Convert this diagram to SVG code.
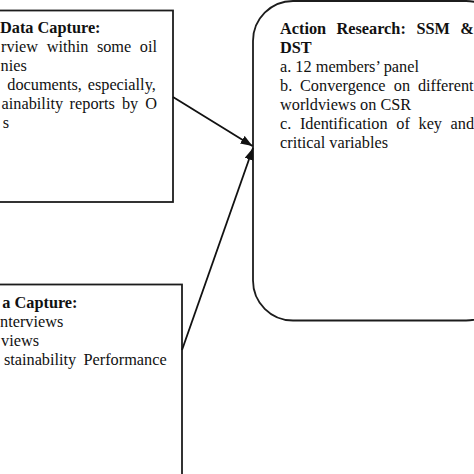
<svg xmlns="http://www.w3.org/2000/svg" width="474" height="474" viewBox="0 0 474 474">
<style>
.box{fill:#fff;stroke:#1c1c1c;stroke-width:1.8}
.t{font-family:"Liberation Serif","Times New Roman",serif;font-size:16.3px;fill:#111}
.b{font-weight:bold}
.con{stroke:#111;stroke-width:1.8;fill:none}
</style>
<defs>
<marker id="ah" viewBox="0 0 12 9" refX="12" refY="4.5" markerWidth="12" markerHeight="9" markerUnits="userSpaceOnUse" orient="auto">
<path d="M0,0 L12,4.5 L0,9 z" fill="#111"/>
</marker>
</defs>
<rect width="474" height="474" fill="#fff"/>
<g id="node-top-left">
<rect class="box" x="-10" y="10.5" width="183" height="191.5"/>
<text class="t b" x="0" y="33">Data Capture:</text>
<text class="t" y="52"><tspan x="1">rview</tspan><tspan x="46.7">within</tspan><tspan x="96.9">some</tspan><tspan x="139.8">oil</tspan></text>
<text class="t" x="0.5" y="71">nies</text>
<text class="t" y="90"><tspan x="7.3">documents,</tspan><tspan x="87.7">especially,</tspan></text>
<text class="t" y="109"><tspan x="1.6">ainability</tspan><tspan x="69.6">reports</tspan><tspan x="121.9">by</tspan><tspan x="145.2">O</tspan></text>
<text class="t" x="2.7" y="128">s</text>
</g>
<g id="node-bottom-left">
<rect class="box" x="-10" y="284.5" width="192" height="210"/>
<text class="t b" x="2.3" y="307.5">a Capture:</text>
<text class="t" x="0" y="326.5">nterviews</text>
<text class="t" x="1" y="345.5">views</text>
<text class="t" y="364.5"><tspan x="3.9">stainability</tspan><tspan x="83.5">Performance</tspan></text>
</g>
<g id="node-action-research">
<rect class="box" x="253" y="1" width="253" height="319.5" rx="40" ry="40"/>
<text class="t b" y="34"><tspan x="280">Action</tspan><tspan x="336.5">Research:</tspan><tspan x="416.5">SSM</tspan><tspan x="460.3">&amp;</tspan></text>
<text class="t b" x="280" y="53">DST</text>
<text class="t" x="280" y="72">a. 12 members’ panel</text>
<text class="t" y="91"><tspan x="280">b.</tspan><tspan x="300">Convergence</tspan><tspan x="393.8">on</tspan><tspan x="417.9">different</tspan></text>
<text class="t" x="280" y="110">worldviews on CSR</text>
<text class="t" y="129"><tspan x="280">c.</tspan><tspan x="299.9">Identification</tspan><tspan x="396.3">of</tspan><tspan x="418.5">key</tspan><tspan x="450.6">and</tspan></text>
<text class="t" x="280" y="148">critical variables</text>
</g>
<g id="connectors">
<line class="con" x1="173" y1="97" x2="252.5" y2="146" marker-end="url(#ah)"/>
<line class="con" x1="182" y1="350" x2="253" y2="148" marker-end="url(#ah)"/>
</g>
</svg>
